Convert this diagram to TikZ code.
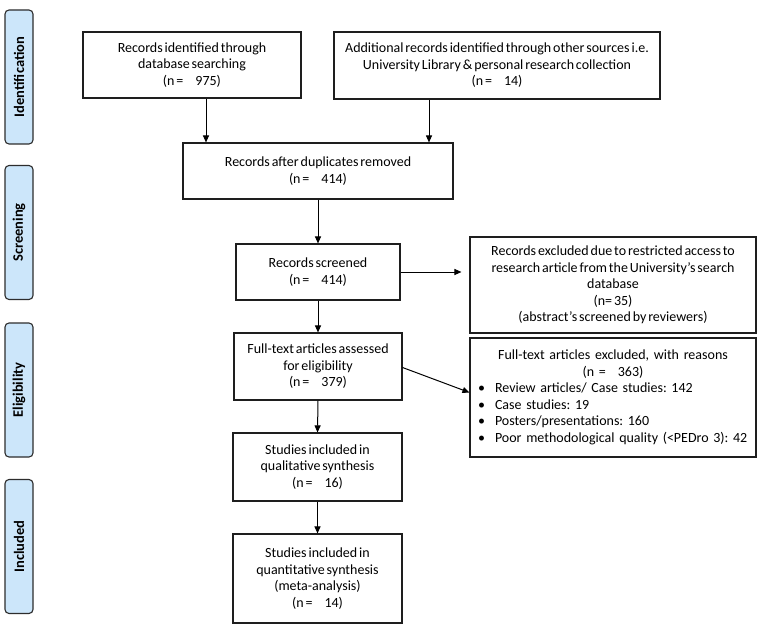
\documentclass[tikz,border=0pt]{standalone}
\usepackage{fontspec}
\setmainfont[WordSpace=0.6]{Carlito}
\usetikzlibrary{arrows.meta}
\definecolor{lblfill}{RGB}{204,230,250}
\definecolor{lbldraw}{RGB}{45,45,45}
\definecolor{boxdraw}{RGB}{30,30,30}
\frenchspacing
\begin{document}
\begin{tikzpicture}[x=1pt,y=-1pt,
  box/.style={draw=boxdraw, line width=1.1pt, inner sep=0pt, align=center,
    font=\fontsize{14}{16.5}\selectfont},
  arr/.style={-{Triangle[length=7pt,width=6pt]}, line width=1pt},
  lbl/.style={draw=lbldraw, fill=lblfill, line width=1.1pt, rounded corners=4pt,
    rotate=90, minimum width=134pt, minimum height=28pt, inner sep=0pt,
    font=\fontsize{14.5}{17}\selectfont\bfseries}]
\useasboundingbox (0,0) rectangle (765,631);
\fill[white] (0,0) rectangle (765,631);

% side labels
\node[lbl] (l1) at (19,77) {Identification};
\node[lbl] (l2) at (19,232.5) {Screening};
\node[lbl] (l3) at (19,390) {Eligibility};
\node[lbl] (l4) at (19,546.5) {Included};

% boxes
\node[box, minimum width=218pt, minimum height=66pt] (b1) at (192,65)
  {Records identified through\\database searching\\(n =\hspace{12pt}975)};
\node[box, minimum width=326pt, minimum height=67pt] (b2) at (497,65.5)
  {Additional records identified through other sources i.e.\\University Library \& personal research collection\\(n =\hspace{12pt}14)};
\node[box, minimum width=270pt, minimum height=56pt] (b3) at (318,171)
  {Records after duplicates removed\\(n =\hspace{12pt}414)};
\node[box, minimum width=164pt, minimum height=56pt] (b4) at (318,272)
  {Records screened\\(n =\hspace{12pt}414)};
\node[box, minimum width=286pt, minimum height=96pt] (b5) at (613,285)
  {Records excluded due to restricted access to\\research article from the University’s search\\database\\(n= 35)\\(abstract’s screened by reviewers)};
\node[box, minimum width=168pt, minimum height=67pt] (b6) at (318,366.5)
  {Full-text articles assessed\\for eligibility\\(n =\hspace{12pt}379)};
\node[box, minimum width=286pt, minimum height=119pt, text width=286pt, align=left] (b7) at (613,397.5)
  {\makebox[286pt]{Full-text articles excluded, with reasons}\\
   \makebox[286pt]{(n =\hspace{12pt}363)}\\
   \hspace*{8pt}\makebox[17pt][l]{•}Review articles/ Case studies: 142\\
   \hspace*{8pt}\makebox[17pt][l]{•}Case studies: 19\\
   \hspace*{8pt}\makebox[17pt][l]{•}Posters/presentations: 160\\
   \hspace*{8pt}\makebox[17pt][l]{•}Poor methodological quality (<PEDro 3): 42};
\node[box, minimum width=169pt, minimum height=68pt] (b8) at (317.5,467)
  {Studies included in\\qualitative synthesis\\(n =\hspace{12pt}16)};
\node[box, minimum width=169pt, minimum height=89pt] (b9) at (317.5,578.5)
  {Studies included in\\quantitative synthesis\\(meta-analysis)\\(n =\hspace{12pt}14)};

% connectors
\draw[arr] ([xshift=14pt]b1.south) -- ([xshift=14pt]b1.south |- b3.north);
\draw[arr] ([xshift=-68pt]b2.south) -- ([xshift=-68pt]b2.south |- b3.north);
\draw[arr] (b3.south) -- (b4.north);
\draw[arr, shorten >=8pt] (b4.east) -- (b4.east -| b5.west);
\draw[arr] (b4.south) -- (b6.north);
\draw[arr] ([yshift=-1pt]b6.east) -- ([yshift=5pt]b7.west);
\draw[arr] (b6.south) -- (b8.north);
\draw[arr] (b8.south) -- (b9.north);
\end{tikzpicture}
\end{document}
